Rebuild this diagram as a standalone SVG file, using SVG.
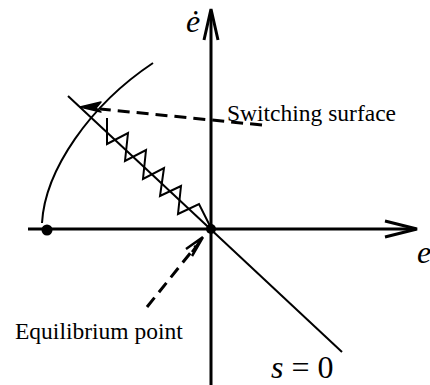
<svg xmlns="http://www.w3.org/2000/svg" width="430" height="385" viewBox="0 0 430 385">
<defs>
<style>
.ax{stroke:#000;stroke-width:3;fill:none}
.ln{stroke:#000;stroke-width:2;fill:none}
.dash{stroke:#000;stroke-width:3;fill:none;stroke-dasharray:12 7}
.lbl{font-family:"Liberation Serif","Times New Roman",serif;font-size:23.5px;fill:#000}
.math{font-family:"Liberation Serif","Times New Roman",serif;font-size:32px;fill:#000}
</style>
</defs>
<rect width="430" height="385" fill="#fff"/>
<g id="axes">
<line class="ax" x1="28" y1="229" x2="416" y2="229"/>
<polyline class="ax" points="385,221 417,229 385,237"/>
<line class="ax" x1="211" y1="385" x2="211" y2="11"/>
<polyline class="ax" points="204,40 211,9 218,40"/>
</g>
<g id="connectors">
<line class="ln" x1="68" y1="96" x2="342" y2="352"/>
<path class="ln" d="M42,223 C45,170 90,105 153,63" stroke-width="2.5"/>
<path class="ln" d="M107,118 V144 L128,133 L125,161 L146,150 L143,179 L164,168 L160,196 L181,186 L178,214 L199,204 L210,226" stroke-width="2.3"/>
<line class="dash" x1="262" y1="125" x2="100" y2="109"/>
<path d="M80,107 L101,102 L96,108 L101,112 Z" fill="#000" stroke="#000" stroke-width="1.5" stroke-linejoin="round"/>
<line class="dash" x1="147" y1="307" x2="196" y2="246"/>
<path d="M203,237 L186,249 M203,237 L192,256 M203,237 L192,252" stroke="#000" stroke-width="2.5" fill="none"/>
</g>
<g id="equilibrium">
<circle cx="211" cy="229" r="5" fill="#000"/>
</g>
<g id="start-point">
<circle cx="47" cy="230" r="5.5" fill="#000"/>
</g>
<g id="labels">
<text class="math" x="186" y="32" font-style="italic">ė</text>
<text class="math" x="417" y="263" font-style="italic">e</text>
<text class="math" x="271" y="378"><tspan font-style="italic">s</tspan> = 0</text>
<text class="lbl" x="227" y="121">Switching surface</text>
<text class="lbl" x="15" y="339">Equilibrium point</text>
</g>
</svg>
